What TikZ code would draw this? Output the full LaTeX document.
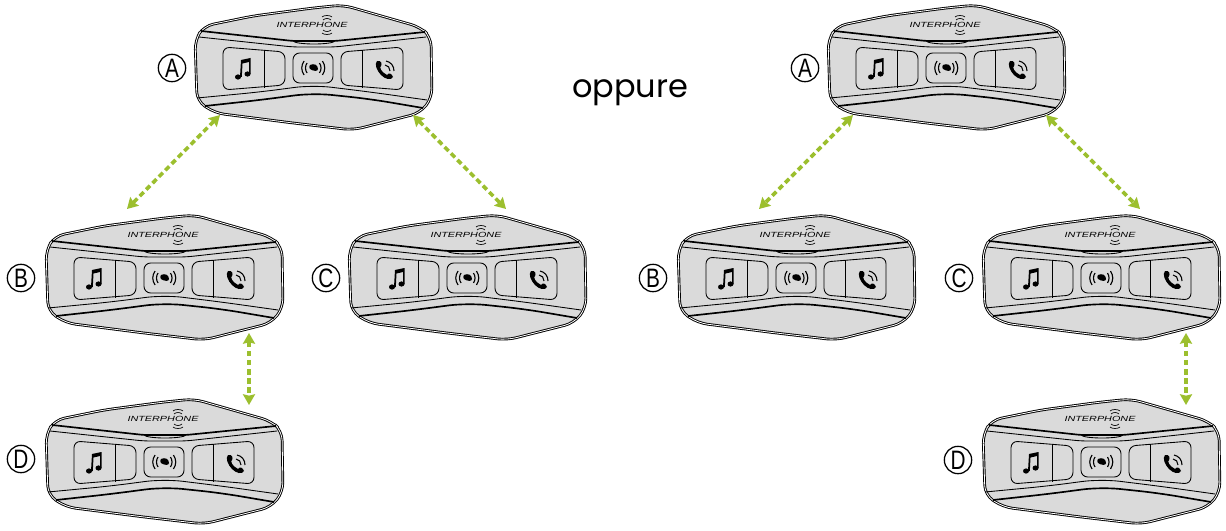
\documentclass[tikz,border=0pt]{standalone}
\usepackage{fontspec}
\usepackage{graphicx}
\setmainfont{Liberation Sans}
\newfontfamily\oppfont{Poppins}
\usetikzlibrary{arrows.meta}
\definecolor{bodygrey}{HTML}{DADADA}
\definecolor{linkgreen}{HTML}{9CBF2E}
\newcommand{\taglabel}[1]{\scalebox{0.78}[1]{#1}}
\tikzset{
 x=0.75pt,y=-0.75pt,
 bodyline/.style={draw=black,line width=0.7pt,double=white,double distance=0.6pt},
 btn/.style={draw=black,line width=0.65pt,rounded corners=5pt,fill=bodygrey},
 thinline/.style={draw=black,line width=0.65pt},
 thickline/.style={draw=black,line width=1.25pt},
 iconfill/.style={fill=black,draw=none},
 link/.style={draw=linkgreen,line width=2.7pt,dash pattern=on 4.2pt off 2.6pt,{Stealth[length=8pt,width=9pt,inset=1pt]}-{Stealth[length=8pt,width=9pt,inset=1pt]}},
 tag/.style={circle,draw=black,line width=0.95pt,inner sep=0pt,minimum size=20.5pt,font=\fontsize{20}{20}\selectfont},
 logo/.style={inner sep=0pt,font=\fontsize{5.6}{6}\selectfont\itshape,xscale=1.45},
 device/.pic={
  \path[bodyline,fill=bodygrey,rounded corners=7pt] (-109,-42) -- (-60,-52) -- (0,-60) -- (30,-63) -- (107,-41) -- (118,-31) -- (119,30) -- (107,45) -- (40,62) -- (-20,55) -- (-98,45) -- (-116,33) -- (-118,-28) -- cycle;
  \path[thinline,rounded corners=5pt] (-114,-31) -- (-20,-21) -- (22,-21) -- (113,-31);
  \path[thickline,rounded corners=3pt] (-112,-37) -- (-20,-27) -- (22,-27) -- (112,-36);
  \path[thinline] (-20,-27) .. controls (-17,-23) and (19,-23) .. (22,-27);
  \path[thinline,rounded corners=14pt] (-116,30) -- (-53,24) -- (0,17) -- (57,24) -- (114,32);
  \path[thickline,rounded corners=14pt] (-108,38) -- (-53,32) -- (0,25) -- (57,31) -- (110,40);
  % left button
  \path[btn] (-90,-21) -- (-28,-16) -- (-28,17) -- (-90,22) -- cycle;
  \draw[thinline] (-49,-18) -- (-49,20);
  % right button
  \path[btn] (28,-16) -- (90,-21) -- (90,22) -- (28,17) -- cycle;
  \draw[thinline] (49,-18) -- (49,20);
  % centre button
  \path[btn] (-20,-15) rectangle (20,15);
  % music note
  \fill[iconfill] (-75,9) ellipse (3 and 2.6);
  \fill[iconfill] (-65.5,6) ellipse (3 and 2.6);
  \fill[iconfill] (-73,9) -- (-72,-8) -- (-62.5,-10) -- (-62.5,6) -- (-64,6) -- (-64,-6) -- (-70.5,-4.5) -- (-71.2,9) -- cycle;
  % phone
  \begin{scope}[shift={(8,1)}]
  \fill[iconfill] (56,-8) .. controls (61,-9) and (61,-4) .. (60,-3) .. controls (58,-2) and (60,3) .. (66,6) .. controls (68,3) and (71,5) .. (72,8) .. controls (70,12) and (64,10) .. (60,6) .. controls (56,2) and (53,-5) .. (56,-8) -- cycle;
  \draw[thinline,line width=0.8pt] (65,-8) .. controls (70,-7) and (73,-3) .. (73,2);
  \draw[thinline,line width=0.8pt] (64,-4) .. controls (67,-4) and (69,-1) .. (69,2);
  \end{scope}
  % waves
  \fill[iconfill] (-3,-3) .. controls (1,-5) and (5,-3) .. (5,1) .. controls (5,4) and (0,3) .. (-3,1) .. controls (-4,0) and (-4,-2) .. (-3,-3) -- cycle;
  \draw[thinline,line width=0.85pt] (-6,-5) .. controls (-8,-2) and (-8,2) .. (-6,5);
  \draw[thinline,line width=0.85pt] (-9,-7) .. controls (-12,-2) and (-12,2) .. (-9,7);
  \draw[thinline,line width=0.85pt] (6.5,-5) .. controls (8.5,-2) and (8.5,2) .. (6.5,5);
  \draw[thinline,line width=0.85pt] (9.5,-7) .. controls (12.5,-2) and (12.5,2) .. (9.5,7);
  % logo
  \node[logo] (-logo) at (-1,-43) {INTERPHONE};
  \draw[thinline,line width=0.5pt] (10,-48) .. controls (12,-50) and (16,-50) .. (18,-48);
  \draw[thinline,line width=0.5pt] (9,-51) .. controls (11,-53) and (17,-53) .. (19,-51);
  \draw[thinline,line width=0.5pt] (10,-38) .. controls (12,-36) and (16,-36) .. (18,-38);
  \draw[thinline,line width=0.5pt] (9,-35) .. controls (11,-33) and (17,-33) .. (19,-35);
  % anchors for connectors
  \coordinate (-sl) at (-93,47);
  \coordinate (-sr) at (100,47);
  \coordinate (-nl) at (-37,-69);
  \coordinate (-nr) at (39,-69);
  \coordinate (-s) at (85,55);
  \coordinate (-n) at (85,-57);
 }
}
\begin{document}
\begin{tikzpicture}
\useasboundingbox (0,0) rectangle (1226,531);
\pic (la) at (313,68) {device};
\pic (lb) at (164,278) {device};
\pic (lc) at (467,278) {device};
\pic (ld) at (164,462) {device};
\pic (ra) at (946,68) {device};
\pic (rb) at (796,278) {device};
\pic (rc) at (1101,278) {device};
\pic (rd) at (1101,462) {device};
\node[tag] (tla) at (172,68) {\taglabel{A}};
\node[tag] (tlb) at (21,278) {\taglabel{B}};
\node[tag] (tlc) at (326,278) {\taglabel{C}};
\node[tag] (tld) at (21,459) {\taglabel{D}};
\node[tag] (tra) at (805,68) {\taglabel{A}};
\node[tag] (trb) at (653,278) {\taglabel{B}};
\node[tag] (trc) at (959,278) {\taglabel{C}};
\node[tag] (trd) at (958,460) {\taglabel{D}};
\node[inner sep=0pt,font=\oppfont\fontsize{24}{24}\selectfont] (opp) at (630,93) {oppure};
\draw[link] (la-sl) -- (lb-nl);
\draw[link] (la-sr) -- (lc-nr);
\draw[link] (lb-s) -- (ld-n);
\draw[link] (ra-sl) -- (rb-nl);
\draw[link] (ra-sr) -- (rc-nr);
\draw[link] (rc-s) -- (rd-n);
\end{tikzpicture}
\end{document}
